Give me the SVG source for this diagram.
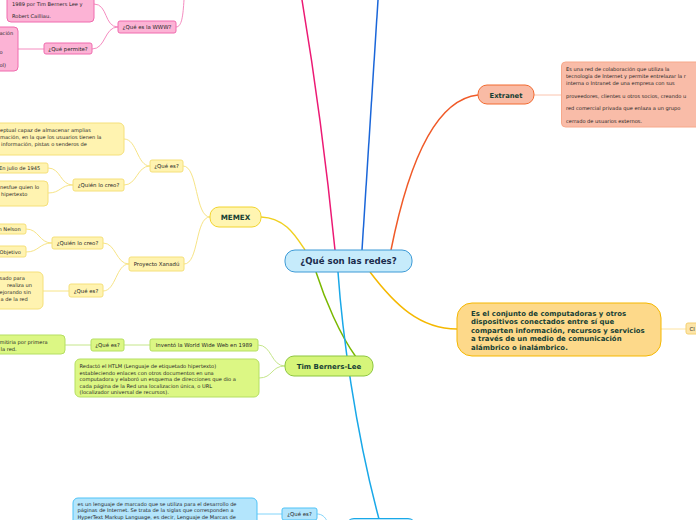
<svg xmlns="http://www.w3.org/2000/svg" width="696" height="520" viewBox="0 0 696 520">
<style>
text{font-family:"DejaVu Sans","Liberation Sans",sans-serif}
.t{font-size:5.1px;fill:#262626}
.l{font-size:5.4px;fill:#262626;text-anchor:middle}
.h{font-weight:bold;fill:#163f34;text-anchor:middle}
.main{fill:none;stroke-width:1.5}
.sub{fill:none;stroke-width:1}
.pk{fill:#fcb3d5;stroke:#f06bae;stroke-width:1}
.ye{fill:#fff3b0;stroke:#f5e07a;stroke-width:1}
.gr{fill:#dcf784;stroke:#b5df62;stroke-width:1}
.bl{fill:#b3e5fc;stroke:#4fc3f7;stroke-width:1}
</style>
<rect width="696" height="520" fill="#fff"/>
<g id="connectors">
<path class="main" stroke="#ec1a74" d="M335,250 Q322,120 302,0"/>
<path class="main" stroke="#1a66d9" d="M362,250 Q370,120 378,0"/>
<path class="main" stroke="#f05a28" d="M391,250 C405,180 430,100 478,95"/>
<path class="main" stroke="#f5b800" d="M370,272 C395,305 420,329 457,329"/>
<path class="main" stroke="#f0d020" d="M261,217 C285,218 295,235 305,250"/>
<path class="main" stroke="#7ab800" d="M316,272 C325,300 340,335 356,357"/>
<path class="main" stroke="#19a8e8" d="M338,272 C342,330 355,430 379,519"/>
<path class="sub" stroke="#f58cc0" d="M118,27 C104,27 108,4 94,4"/>
<path class="sub" stroke="#f58cc0" d="M118,27 C104,27 106,49 92,49"/>
<path class="sub" stroke="#f58cc0" d="M44,49 L18,49"/>
<path class="sub" stroke="#f58cc0" d="M176,27 C182,27 183,15 184,0"/>
<path class="sub" stroke="#fbc4ae" d="M534,95 L561,95"/>
<path class="sub" stroke="#fde3a0" d="M661,329 L686,329"/>
<path class="sub" stroke="#f7e486" d="M210,217 C195,217 198,166 183,166"/>
<path class="sub" stroke="#f7e486" d="M210,217 C195,217 199,264 184,264"/>
<path class="sub" stroke="#f7e486" d="M150,166 C137,166 137,139 124,139"/>
<path class="sub" stroke="#f7e486" d="M150,166 C137,166 137,185 124,185"/>
<path class="sub" stroke="#f7e486" d="M73,185 C60,185 61,168 48,168"/>
<path class="sub" stroke="#f7e486" d="M73,185 C60,185 61,193 48,193"/>
<path class="sub" stroke="#f7e486" d="M129,264 C116,264 116,243 103,243"/>
<path class="sub" stroke="#f7e486" d="M129,264 C116,264 116,291 103,291"/>
<path class="sub" stroke="#f7e486" d="M52,243 C39,243 39,229 26,229"/>
<path class="sub" stroke="#f7e486" d="M52,243 C39,243 39,252 26,252"/>
<path class="sub" stroke="#f7e486" d="M69,291 L43,291"/>
<path class="sub" stroke="#c5e68a" d="M285,366 C271,366 272,345 258,345"/>
<path class="sub" stroke="#c5e68a" d="M285,366 C271,366 273,378 259,378"/>
<path class="sub" stroke="#c5e68a" d="M150,345 L124,345"/>
<path class="sub" stroke="#c5e68a" d="M91,345 L65,345"/>
<path class="sub" stroke="#81d4fa" d="M257,514 L282,514"/>
<path class="sub" stroke="#81d4fa" d="M317,514 C322,514 325,517 327,521"/>
</g>
<g id="center">
<rect x="285" y="250" width="127" height="22" rx="10" fill="#c6ebfb" stroke="#3c9ad6" stroke-width="1"/>
<text x="348.5" y="264.3" class="h" style="font-size:8.6px;fill:#1a2b4c">¿Qué son las redes?</text>
</g>
<g id="extranet">
<rect x="478" y="85" width="56" height="19" rx="9" fill="#f9bba5" stroke="#f26a30" stroke-width="1"/>
<text x="506" y="97.5" class="h" style="font-size:6.8px">Extranet</text>
</g>
<g id="extranet-desc">
<rect x="561.5" y="62" width="150" height="65" rx="4" fill="#f9bca8" stroke="#f7a88a" stroke-width="1"/>
<text class="t" x="566" y="71">Es una red de colaboración que utiliza la</text>
<text class="t" x="566" y="77.5">tecnología de Internet y permite entrelazar la r</text>
<text class="t" x="566" y="84.5">interna o Intranet de una empresa con sus</text>
<text class="t" x="566" y="97.5">proveedores, clientes u otros socios, creando u</text>
<text class="t" x="566" y="110">red comercial privada que enlaza a un grupo</text>
<text class="t" x="566" y="123">cerrado de usuarios externos.</text>
</g>
<g id="definicion">
<rect x="457" y="303" width="204" height="53" rx="15" fill="#fdd98a" stroke="#f5b700" stroke-width="1"/>
<text class="h" style="font-size:6.95px;text-anchor:start" x="471" y="315.5">Es el conjunto de computadoras y otros</text>
<text class="h" style="font-size:6.95px;text-anchor:start" x="471" y="324">dispositivos conectados entre sí que</text>
<text class="h" style="font-size:6.95px;text-anchor:start" x="471" y="332.5">comparten información, recursos y servicios</text>
<text class="h" style="font-size:6.95px;text-anchor:start" x="471" y="341">a través de un medio de comunicación</text>
<text class="h" style="font-size:6.95px;text-anchor:start" x="471" y="349.5">alámbrico o inalámbrico.</text>
</g>
<g id="cl">
<rect x="686" y="323" width="20" height="11" rx="2" fill="#fde5a8" stroke="#f5d070" stroke-width="1"/>
<text class="t" x="689.5" y="330.5" style="font-size:5.4px">Cl</text>
</g>
<g id="www-origen">
<rect class="pk" x="7" y="-10" width="87" height="32" rx="4"/>
<text class="t" x="12" y="5.5">1989 por Tim Berners Lee y</text>
<text class="t" x="12" y="18">Robert Cailliau.</text>
</g>
<g id="que-es-www">
<rect class="pk" x="118" y="21" width="58" height="12" rx="2"/>
<text class="l" x="147" y="29">¿Qué es la WWW?</text>
</g>
<g id="que-permite">
<rect class="pk" x="44" y="43" width="48" height="11" rx="2"/>
<text class="l" x="68" y="50.5">¿Qué permite?</text>
</g>
<g id="permite-desc">
<rect class="pk" x="-20" y="27" width="38" height="44" rx="4"/>
<text class="t" x="-0.5" y="35">ación</text>
<text class="t" x="-0.5" y="54">o</text>
<text class="t" x="-0.5" y="67">ol)</text>
</g>
<g id="memex">
<rect x="210" y="207" width="51" height="20" rx="9" fill="#fff5b1" stroke="#f2d42e" stroke-width="1"/>
<text class="h" x="235.5" y="219.5" style="font-size:7.2px">MEMEX</text>
</g>
<g id="memex-que-es">
<rect class="ye" x="150" y="160" width="33" height="12" rx="2"/>
<text class="l" x="166.5" y="168">¿Qué es?</text>
</g>
<g id="memex-def">
<rect class="ye" x="-20" y="123" width="144" height="32" rx="5"/>
<text class="t" x="0" y="132">eptual capaz de almacenar amplias</text>
<text class="t" x="0" y="139">mación, en la que los usuarios tienen la</text>
<text class="t" x="1" y="145.5"> información, pistas o senderos de</text>
</g>
<g id="memex-quien">
<rect class="ye" x="73" y="179" width="51" height="12" rx="2"/>
<text class="l" x="98.5" y="187">¿Quién lo creo?</text>
</g>
<g id="memex-fecha">
<rect class="ye" x="-20" y="163" width="68" height="10" rx="2"/>
<text class="t" x="-1" y="170">En julio de 1945</text>
</g>
<g id="memex-autor">
<rect class="ye" x="-20" y="181" width="68" height="25" rx="4"/>
<text class="t" x="0" y="188.5">nesfue quien lo</text>
<text class="t" x="1" y="196">hipertexto</text>
</g>
<g id="xanadu">
<rect class="ye" x="129" y="257" width="55" height="14" rx="2"/>
<text class="l" x="156.5" y="266">Proyecto Xanadú</text>
</g>
<g id="xanadu-quien">
<rect class="ye" x="52" y="237" width="51" height="12" rx="2"/>
<text class="l" x="77.5" y="245">¿Quién lo creo?</text>
</g>
<g id="xanadu-autor">
<rect class="ye" x="-20" y="224" width="46" height="10" rx="2"/>
<text class="t" x="-1.5" y="231">n Nelson</text>
</g>
<g id="xanadu-objetivo">
<rect class="ye" x="-20" y="246" width="46" height="11" rx="2"/>
<text class="t" x="-0.5" y="253.5">Objetivo</text>
</g>
<g id="xanadu-que-es">
<rect class="ye" x="69" y="284" width="34" height="13" rx="2"/>
<text class="l" x="86" y="292.5">¿Qué es?</text>
</g>
<g id="xanadu-def">
<rect class="ye" x="-20" y="272" width="63" height="37" rx="5"/>
<text class="t" x="-0.5" y="280">sado para</text>
<text class="t" x="7" y="287">realiza un</text>
<text class="t" x="-0.5" y="294">ejorando sin</text>
<text class="t" x="0.5" y="301">a de la red</text>
</g>
<g id="tim">
<rect x="285" y="356" width="88" height="20" rx="9" fill="#d6f57a" stroke="#8dc63f" stroke-width="1"/>
<text class="h" x="329" y="368.5" style="font-size:7px">Tim Berners-Lee</text>
</g>
<g id="tim-invento">
<rect class="gr" x="150" y="339" width="108" height="12" rx="2"/>
<text class="l" x="204" y="347">Inventó la World Wide Web en 1989</text>
</g>
<g id="tim-que-es">
<rect class="gr" x="91" y="339" width="33" height="12" rx="2"/>
<text class="l" x="107.5" y="347">¿Qué es?</text>
</g>
<g id="tim-def">
<rect class="gr" x="-20" y="335" width="85" height="19" rx="4"/>
<text class="t" x="-0.5" y="344">mitiria por primera</text>
<text class="t" x="0.5" y="351">la red.</text>
</g>
<g id="tim-html">
<rect class="gr" x="75" y="359" width="184" height="38" rx="5"/>
<text class="t" x="79.5" y="368">Redactó el HTLM (Lenguaje de etiquetado hipertexto)</text>
<text class="t" x="79.5" y="374.5">estableciendo enlaces con otros documentos en una</text>
<text class="t" x="79.5" y="381">computadora y elaboró un esquema de direcciones que dio a</text>
<text class="t" x="79.5" y="387.5">cada página de la Red una localizacion única, o URL</text>
<text class="t" x="79.5" y="394">(localizador universal de recursos).</text>
</g>
<g id="html-def">
<rect class="bl" x="73" y="498" width="184" height="40" rx="5"/>
<text class="t" x="77.5" y="505.5">es un lenguaje de marcado que se utiliza para el desarrollo de</text>
<text class="t" x="77.5" y="512">páginas de Internet. Se trata de la siglas que corresponden a</text>
<text class="t" x="77.5" y="518.5">HyperText Markup Language, es decir, Lenguaje de Marcas de</text>
</g>
<g id="html-que-es">
<rect class="bl" x="282" y="508" width="35" height="12" rx="2"/>
<text class="l" x="299.5" y="516">¿Qué es?</text>
</g>
<g id="html">
<rect x="346" y="518.5" width="70" height="20" rx="8" fill="#b3e5fc" stroke="#19a8e8" stroke-width="1"/>
</g>
</svg>
